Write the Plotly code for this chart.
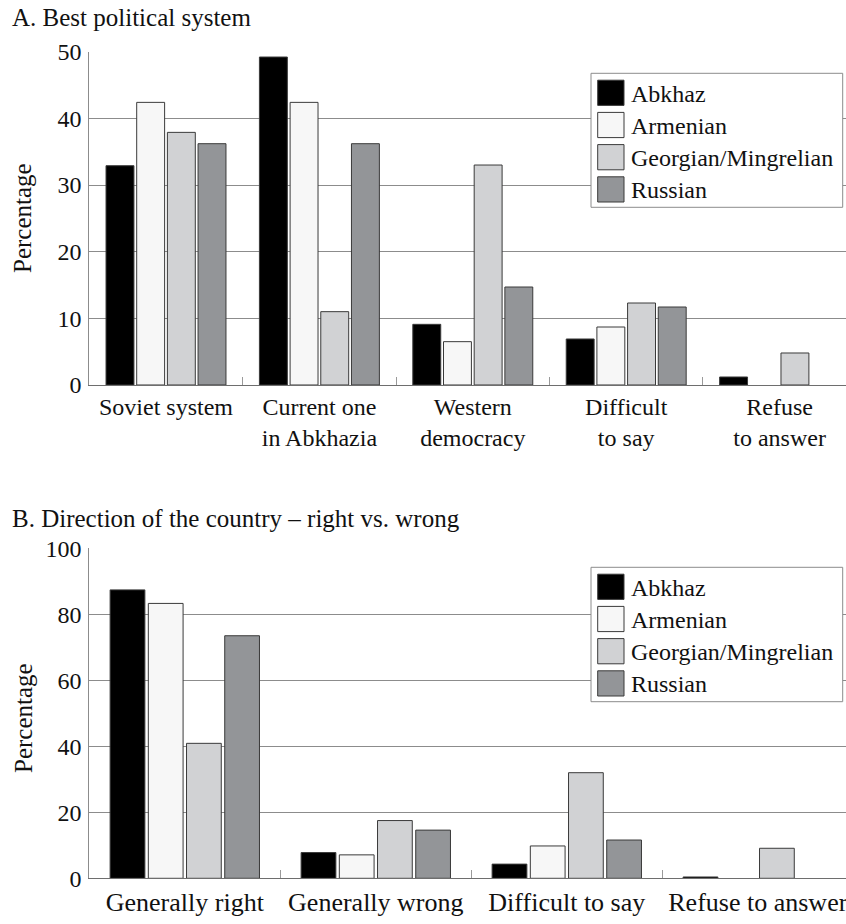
import plotly.graph_objects as go

W, H = 846, 924

series = ["Abkhaz", "Armenian", "Georgian/Mingrelian", "Russian"]
colors = ["#000000", "#f7f7f7", "#d1d2d4", "#939598"]

cats_a = ["Soviet system", "Current one<br>in Abkhazia", "Western<br>democracy",
          "Difficult<br>to say", "Refuse<br>to answer"]
abkhaz_a = [32.9, 49.2, 9.1, 6.9, 1.2]
armenian_a = [42.4, 42.4, 6.5, 8.7, 0]
georgian_a = [37.9, 11.0, 33.0, 12.3, 4.8]
russian_a = [36.2, 36.2, 14.7, 11.7, 0]

cats_b = ["Generally right", "Generally wrong", "Difficult to say", "Refuse to answer"]
abkhaz_b = [87.4, 7.8, 4.3, 0.4]
armenian_b = [83.3, 7.1, 9.8, 0]
georgian_b = [40.9, 17.5, 32.0, 9.1]
russian_b = [73.5, 14.6, 11.6, 0]

yticks_a = [0, 10, 20, 30, 40, 50]
yticks_b = [0, 20, 40, 60, 80, 100]

FONT = "Liberation Serif, Times New Roman, serif"


def px(x):
    return x / W


def py(y):
    return 1 - y / H


def outline(vals):
    return dict(color="#3a3a3a", width=[1 if v > 0 else 0 for v in vals])


fig = go.Figure()
vals_a = [abkhaz_a, armenian_a, georgian_a, russian_a]
vals_b = [abkhaz_b, armenian_b, georgian_b, russian_b]
for name, col, va, vb in zip(series, colors, vals_a, vals_b):
    fig.add_trace(go.Bar(x=cats_a, y=va, name=name, marker=dict(color=col, line=outline(va)),
                         xaxis="x", yaxis="y", showlegend=False, offsetgroup=name))
    fig.add_trace(go.Bar(x=cats_b, y=vb, name=name, marker=dict(color=col, line=outline(vb)),
                         xaxis="x2", yaxis="y2", showlegend=False, offsetgroup=name))

xdom = [px(89.3), 1]
common_x = dict(type="category", showgrid=False, showline=True, linecolor="#6e6e6e", linewidth=1,
                ticks="inside", tickson="boundaries", ticklen=8, tickcolor="#9a9a9a", tickwidth=1,
                automargin=False, fixedrange=True)
common_y = dict(showgrid=True, gridcolor="#8c8c8c", gridwidth=1, showline=True, linecolor="#8c8c8c",
                linewidth=1, ticks="", zeroline=False, tickfont=dict(family=FONT, size=24, color="#111"),
                automargin=False, ticklabelstandoff=2, fixedrange=True)

fig.update_layout(
    width=W, height=H,
    margin=dict(l=0, r=0, t=0, b=0),
    paper_bgcolor="white", plot_bgcolor="white",
    barmode="group", bargap=0.2, bargroupgap=0.09,
    showlegend=False,
    xaxis=dict(domain=xdom, anchor="y", range=[-0.5, -0.5 + 756.7 / 153.4],
               tickfont=dict(family=FONT, size=24, color="#111"), ticklabelstandoff=0, **common_x),
    yaxis=dict(domain=[py(385), py(51.7)], anchor="x", range=[0, 50], tickvals=yticks_a, **common_y),
    xaxis2=dict(domain=xdom, anchor="y2", range=[-0.5, -0.5 + 756.7 / 191.0],
                tickfont=dict(family=FONT, size=26, color="#111"), ticklabelstandoff=0, **common_x),
    yaxis2=dict(domain=[py(878.3), py(548.3)], anchor="x2", range=[0, 100], tickvals=yticks_b, **common_y),
)

annotations = []
shapes = []
# Panel titles
for text, yc in [("A. Best political system", 18), ("B. Direction of the country – right vs. wrong", 518)]:
    annotations.append(dict(text=text, x=px(10), y=py(yc), xref="paper", yref="paper", xanchor="left",
                            yanchor="middle", showarrow=False, font=dict(family=FONT, size=25, color="#111")))
# Y-axis titles
for yc in [218, 718]:
    annotations.append(dict(text="Percentage", x=px(23), y=py(yc), xref="paper", yref="paper", textangle=-90,
                            xanchor="center", yanchor="middle", showarrow=False,
                            font=dict(family=FONT, size=25, color="#111")))

# Legends (one per panel)
for box_top, box_bot, row0 in [(73.3, 207.3, 92.8), (567.3, 701.7, 586.8)]:
    shapes.append(dict(type="rect", xref="paper", yref="paper", x0=px(591), x1=px(842.7),
                       y0=py(box_bot), y1=py(box_top), line=dict(color="#8c8c8c", width=1), fillcolor="white"))
    for i, (name, col) in enumerate(zip(series, colors)):
        yc = row0 + 32.2 * i
        shapes.append(dict(type="rect", xref="paper", yref="paper", x0=px(597.7), x1=px(624),
                           y0=py(yc + 12.6), y1=py(yc - 12.6), line=dict(color="#3a3a3a", width=1),
                           fillcolor=col))
        annotations.append(dict(text=name, x=px(629), y=py(yc + 1), xref="paper", yref="paper",
                                xanchor="left", yanchor="middle", showarrow=False,
                                font=dict(family=FONT, size=24, color="#111")))

fig.update_layout(annotations=annotations, shapes=shapes)
fig.write_html("out.html", config={"displayModeBar": False},
               post_script="document.body.style.margin='0';document.body.style.overflow='hidden';")
